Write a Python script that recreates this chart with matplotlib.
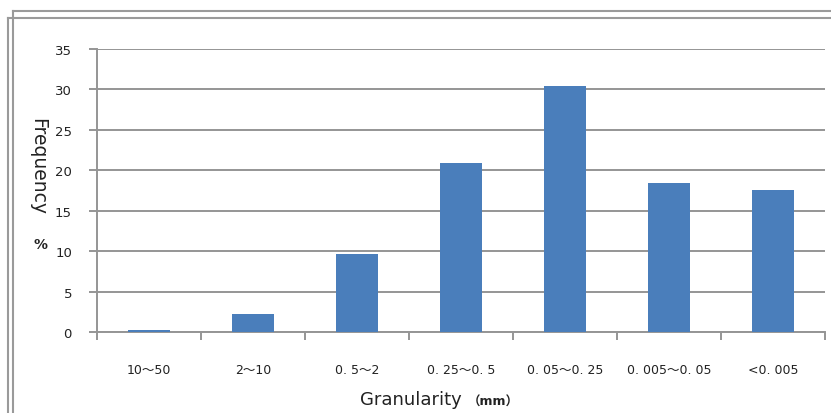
import numpy as np
import matplotlib
matplotlib.use('Agg')
import matplotlib.pyplot as plt
from matplotlib.lines import Line2D

plt.rcParams['font.family'] = ['DejaVu Sans', 'Noto Sans CJK SC']

# data
categories = ['10～50', '2～10', '0. 5～2', '0. 25～0. 5', '0. 05～0. 25', '0. 005～0. 05', '<0. 005']
frequency = [0.3, 2.2, 9.6, 20.9, 30.4, 18.4, 17.6]
y_ticks = [0, 5, 10, 15, 20, 25, 30, 35]

W, H = 831, 414
fig = plt.figure(figsize=(W / 100, H / 100), dpi=100)
ax = fig.add_axes([97 / W, (H - 333) / H, 728 / W, 283 / H])

x = np.arange(len(categories))
ax.bar(x, frequency, width=0.4, color='#4a7ebb', zorder=3)

ax.set_xlim(-0.5, len(categories) - 0.5)
ax.set_ylim(0, 35)
ax.set_yticks(y_ticks)
ax.set_yticklabels([str(t) for t in y_ticks], fontsize=9.5, color='#222222')
ax.grid(axis='y', color='#959595', linewidth=1.4, zorder=0)

# category boundary ticks on x axis
ax.set_xticks(np.arange(-0.5, len(categories), 1.0))
ax.set_xticklabels([])
ax.set_xticks(x, minor=True)
ax.set_xticklabels(categories, minor=True, fontsize=9, color='#222222')
ax.tick_params(axis='x', which='major', length=6, width=1.4, color='#959595', direction='out')
ax.tick_params(axis='x', which='minor', length=0, pad=22)
ax.tick_params(axis='y', length=6, width=1.4, color='#959595', pad=12)

for s in ['top', 'right']:
    ax.spines[s].set_visible(False)
for s in ['left', 'bottom']:
    ax.spines[s].set_color('#959595')
    ax.spines[s].set_linewidth(1.4)

# axis titles
fig.text(462 / W, 1 - 400 / H, 'Granularity', ha='right', va='center',
         fontsize=13, color='#222222')
fig.text(468 / W, 1 - 402 / H, '（mm）', ha='left', va='center',
         fontsize=9, fontweight='bold', color='#222222')
fig.text(38 / W, 1 - 167 / H, 'Frequency', rotation=-90, ha='center', va='center',
         fontsize=13.5, color='#222222')
fig.text(40 / W, 1 - 245 / H, '%', ha='center', va='center', fontsize=10,
         fontweight='bold', color='#222222')

# double frame of the chart area
frame_col = '#9a9a9a'
for (x0, y0) in [(13, 12), (8, 19)]:
    fig.add_artist(Line2D([x0 / W, 1.0], [1 - y0 / H, 1 - y0 / H], transform=fig.transFigure,
                          color=frame_col, linewidth=1.5))
    fig.add_artist(Line2D([x0 / W, x0 / W], [1 - y0 / H, 0.0], transform=fig.transFigure,
                          color=frame_col, linewidth=1.5))

fig.savefig('out.png', dpi=100)
